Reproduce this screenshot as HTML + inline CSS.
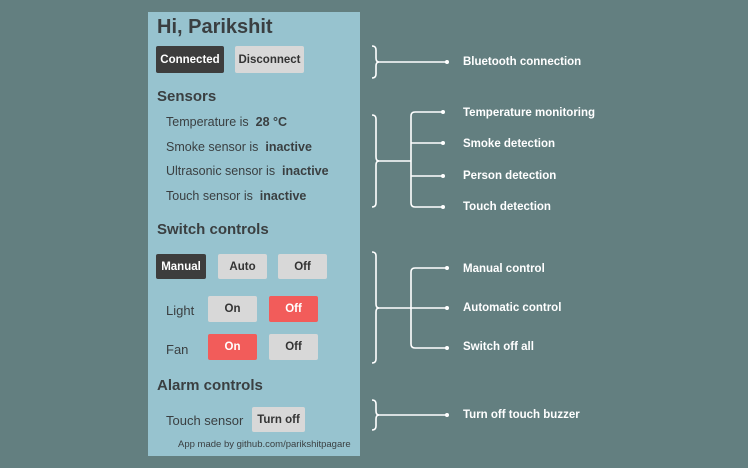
<!DOCTYPE html>
<html><head><style>
body{margin:0;width:748px;height:468px;background:#637f80;position:relative;overflow:hidden;font-family:"Liberation Sans",sans-serif}
.p{position:absolute;left:148px;top:12px;width:212px;height:444px;background:#97c3cf}
.t{position:absolute;color:#3a3f41;white-space:nowrap;line-height:1}
.b{position:absolute;background:#d8d8d8;color:#333;font-weight:bold;font-size:11.5px;display:flex;align-items:center;justify-content:center;border-radius:2px}
.d{background:#3d3d3d;color:#fff}
.r{background:#f25c5a;color:#fff}
.l{position:absolute;left:463px;color:#fff;font-weight:bold;font-size:11.5px;white-space:nowrap;line-height:1}
</style></head><body>
<div class="p"></div>
<div class="t" style="left:157px;top:17px;font-size:20px;font-weight:bold">Hi, Parikshit</div>
<div class="b d" style="left:156px;top:46px;width:68px;height:27px">Connected</div>
<div class="b" style="left:235px;top:46px;width:69px;height:27px">Disconnect</div>
<div class="t" style="left:157px;top:89px;font-size:15px;font-weight:bold">Sensors</div>
<div class="t" style="left:166px;top:116px;font-size:12.5px">Temperature is&nbsp; <b>28 °C</b></div>
<div class="t" style="left:166px;top:141px;font-size:12.5px">Smoke sensor is&nbsp; <b>inactive</b></div>
<div class="t" style="left:166px;top:165px;font-size:12.5px">Ultrasonic sensor is&nbsp; <b>inactive</b></div>
<div class="t" style="left:166px;top:190px;font-size:12.5px">Touch sensor is&nbsp; <b>inactive</b></div>
<div class="t" style="left:157px;top:222px;font-size:15px;font-weight:bold">Switch controls</div>
<div class="b d" style="left:156px;top:254px;width:50px;height:25px">Manual</div>
<div class="b" style="left:218px;top:254px;width:49px;height:25px">Auto</div>
<div class="b" style="left:278px;top:254px;width:49px;height:25px">Off</div>
<div class="t" style="left:166px;top:304px;font-size:13px">Light</div>
<div class="b" style="left:208px;top:296px;width:49px;height:26px">On</div>
<div class="b r" style="left:269px;top:296px;width:49px;height:26px">Off</div>
<div class="t" style="left:166px;top:343px;font-size:13px">Fan</div>
<div class="b r" style="left:208px;top:334px;width:49px;height:26px">On</div>
<div class="b" style="left:269px;top:334px;width:49px;height:26px">Off</div>
<div class="t" style="left:157px;top:378px;font-size:15px;font-weight:bold">Alarm controls</div>
<div class="t" style="left:166px;top:414px;font-size:13px">Touch sensor</div>
<div class="b" style="left:252px;top:407px;width:53px;height:25px">Turn off</div>
<div class="t" style="left:178px;top:440px;font-size:9.5px">App made by github.com/parikshitpagare</div>
<svg width="748" height="468" style="position:absolute;left:0;top:0" fill="none" stroke="#fff" stroke-width="1.6">
<path d="M372 46 q4 0 4 4 v8 q0 4 3 4 q-3 0 -3 4 v8 q0 4 -4 4"/><path d="M377 62 H447"/>
<path d="M372 115 q4 0 4 4 v38 q0 4 3 4 q-3 0 -3 4 v38 q0 4 -4 4"/><path d="M377 161 H411"/>
<path d="M443 112 H415 q-4 0 -4 4 v87 q0 4 4 4 H443 M411 143 H443 M411 176 H443"/>
<path d="M372 252 q4 0 4 4 v48 q0 4 3 4 q-3 0 -3 4 v47 q0 4 -4 4"/><path d="M377 308 H447"/>
<path d="M447 268 H415 q-4 0 -4 4 v72 q0 4 4 4 H447"/>
<path d="M372 400 q4 0 4 4 v7 q0 4 3 4 q-3 0 -3 4 v7 q0 4 -4 4"/><path d="M377 415 H447"/>
<g fill="#fff" stroke="none"><circle cx="447" cy="62" r="2"/><circle cx="443" cy="112" r="2"/><circle cx="443" cy="143" r="2"/><circle cx="443" cy="176" r="2"/><circle cx="443" cy="207" r="2"/><circle cx="447" cy="268" r="2"/><circle cx="447" cy="308" r="2"/><circle cx="447" cy="348" r="2"/><circle cx="447" cy="415" r="2"/></g>
</svg>
<div class="l" style="top:57px">Bluetooth connection</div>
<div class="l" style="top:108px">Temperature monitoring</div>
<div class="l" style="top:139px">Smoke detection</div>
<div class="l" style="top:171px">Person detection</div>
<div class="l" style="top:202px">Touch detection</div>
<div class="l" style="top:264px">Manual control</div>
<div class="l" style="top:303px">Automatic control</div>
<div class="l" style="top:342px">Switch off all</div>
<div class="l" style="top:410px">Turn off touch buzzer</div>
</body></html>
